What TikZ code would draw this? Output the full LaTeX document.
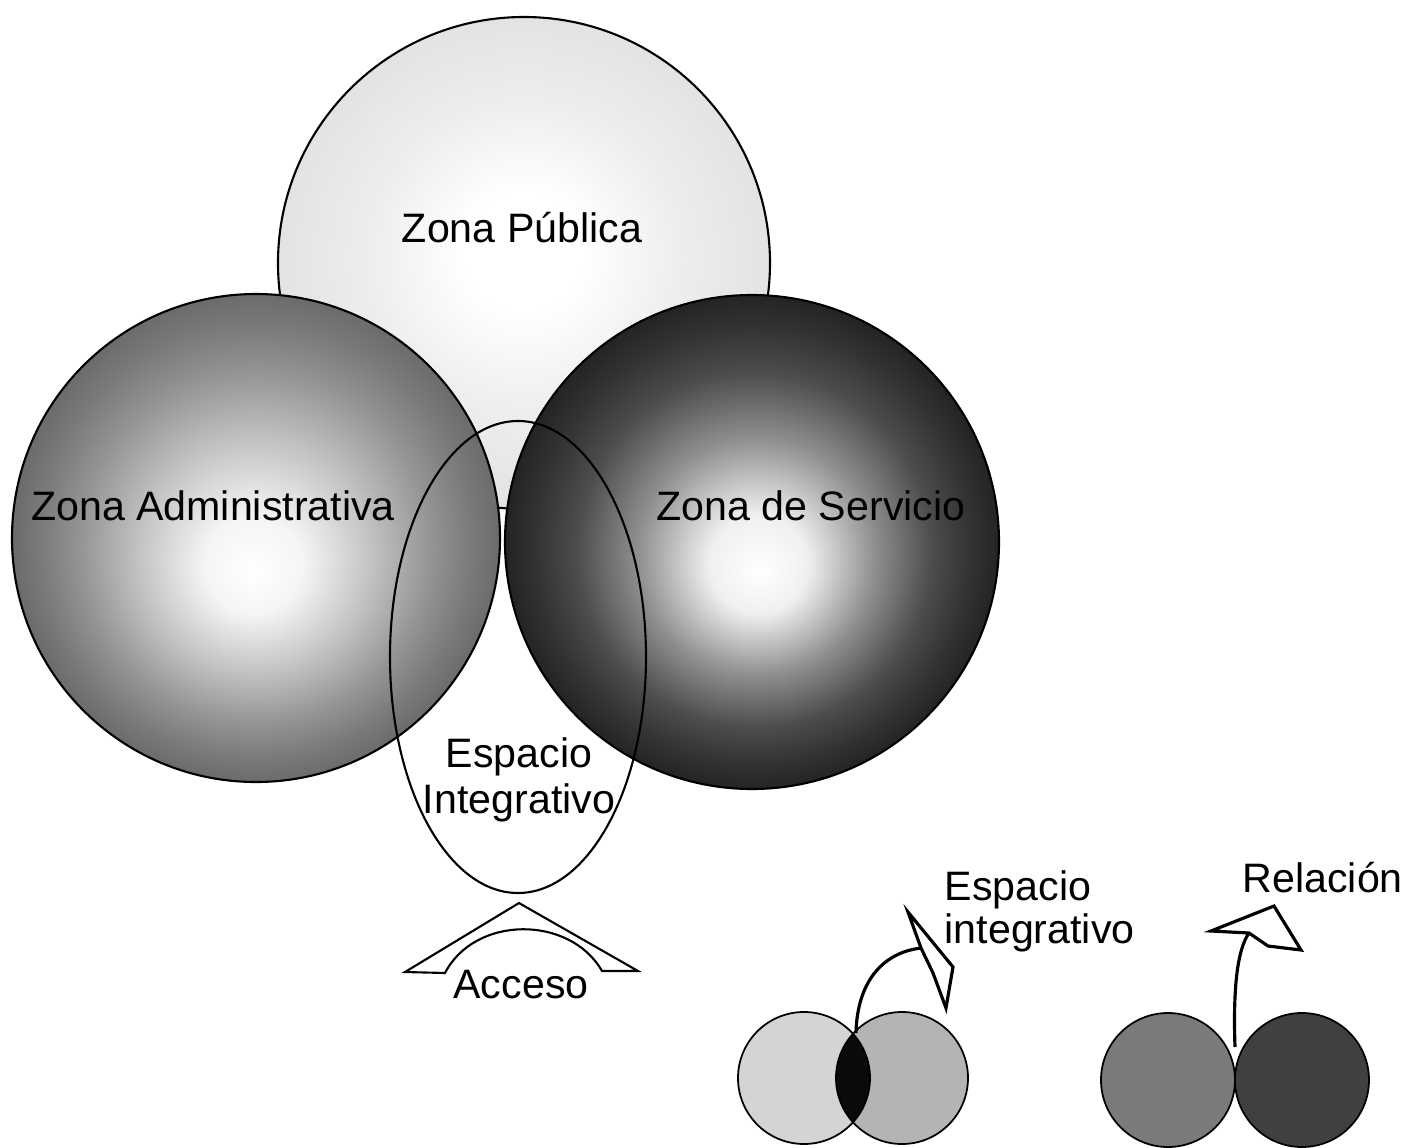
\documentclass[tikz,border=0pt]{standalone}
\usepackage{fontspec}
\setmainfont{Liberation Sans}
\usetikzlibrary{calc}
\definecolor{lenscol}{RGB}{10,10,10}
\definecolor{pairA}{RGB}{212,212,212}
\definecolor{pairB}{RGB}{180,180,180}
\definecolor{pairC}{RGB}{122,122,122}
\definecolor{pairD}{RGB}{64,64,64}

\pgfdeclareradialshading{publica}{\pgfpoint{0bp}{1.5bp}}{color(0bp)=(white); color(6bp)=(white); color(16bp)=(black!7); color(25bp)=(black!11)}
\pgfdeclareradialshading{admin}{\pgfpoint{-0.3bp}{-3.5bp}}{color(0bp)=(white); color(5bp)=(white!96!black); color(12bp)=(black!24); color(18bp)=(black!42); color(22bp)=(black!52); color(25bp)=(black!58)}
\pgfdeclareradialshading{servicio}{\pgfpoint{0.8bp}{-2.8bp}}{color(0bp)=(white); color(5bp)=(white!94!black); color(12bp)=(black!44); color(18bp)=(black!70); color(22bp)=(black!80); color(25bp)=(black!86)}

\begin{document}
\begin{tikzpicture}[
  x=0.01cm, y=-0.01cm,
  zone/.style={draw=black, line width=0.6pt},
  lbl/.style={font=\fontsize{11.7}{13}\selectfont, inner sep=0pt},
  arrline/.style={draw=black, line width=0.9pt, line join=miter},
  mini/.style={draw=black, line width=0.5pt}
]
  \useasboundingbox (0,0) rectangle (1405,1148);

  % zonas
  \shade[shading=publica, zone] (524,263) circle (246);
  \shade[shading=admin, zone] (256,538) circle (244);
  \shade[shading=servicio, zone] (752,542) circle (247);
  \draw[zone] (518,657) ellipse [x radius=128, y radius=236];

  % acceso
  \draw[zone, fill=white] (405,972) -- (519,903) -- (638,971) -- (602,971)
        .. controls (570,915) and (475,915) .. (445,973) -- cycle;

  \node[lbl, anchor=base] (publica) at (522,242) {Zona Pública};
  \node[lbl, anchor=base] (admin) at (213,520) {Zona Administrativa};
  \node[lbl, anchor=base] (servicio) at (811,520) {Zona de Servicio};
  \node[lbl, align=center] (integ) at (519,780) {Espacio\\Integrativo};
  \node[lbl, anchor=base] (acceso) at (521,998) {Acceso};

  % simbologia
  \fill[pairA] (804,1078) circle (66);
  \fill[pairB] (902,1078) circle (66);
  \begin{scope}
    \clip (804,1078) circle (66);
    \fill[lenscol] (902,1078) circle (66);
  \end{scope}
  \draw[mini] (804,1078) circle (66);
  \draw[mini] (902,1078) circle (66);

  \fill[pairC] (1168,1080) circle (67);
  \fill[pairD] (1302,1080) circle (67);
  \draw[mini] (1168,1080) circle (67);
  \draw[mini] (1302,1080) circle (67);

  \coordinate (lensTop) at (856,1033);
  \coordinate (gapTop) at (1235,1047);
  \draw[arrline] (lensTop) .. controls (857,985) and (880,953) .. (921,948);
  \draw[arrline] (921,948) -- (908,912) -- (953,967) -- (946,1008) -- (933,973) -- cycle;
  \draw[arrline] (gapTop) .. controls (1233,990) and (1237,950) .. (1249,933);
  \draw[arrline] (1249,933) -- (1211,931) -- (1274,906) -- (1301,950) -- (1268,946) -- cycle;

  \node[lbl, align=left, anchor=north west, font=\fontsize{11.7}{12.3}\selectfont]
       (leyinteg) at (944,870) {Espacio\\integrativo};
  \node[lbl, anchor=base west] (relacion) at (1242,892) {Relación};
\end{tikzpicture}
\end{document}
